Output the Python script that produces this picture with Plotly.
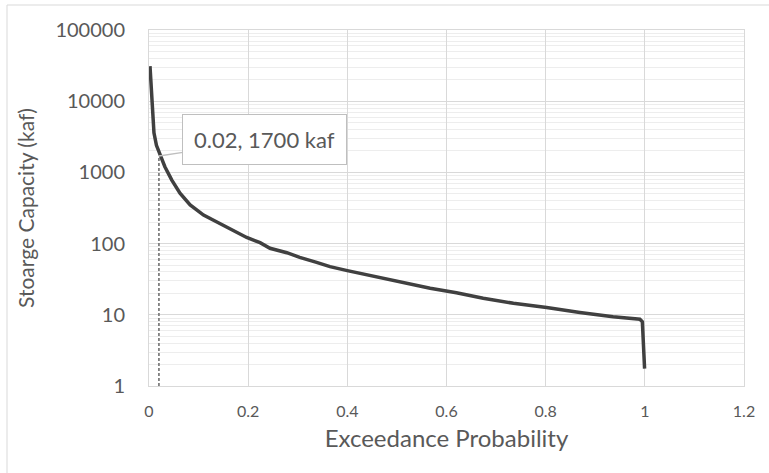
import math
import plotly.graph_objects as go

# Exceedance curve
prob = [0.002, 0.004, 0.006, 0.0075, 0.010, 0.015, 0.021, 0.032, 0.046, 0.0625,
        0.083, 0.110, 0.136, 0.163, 0.197, 0.224, 0.244, 0.278, 0.304, 0.338,
        0.365, 0.400, 0.446, 0.486, 0.530, 0.567, 0.620, 0.674, 0.735, 0.802,
        0.869, 0.936, 0.990, 0.995, 0.9995]
storage = [31000, 18000, 10500, 6000, 3600, 2400, 1850, 1200, 780, 510,
           350, 252, 203, 164, 122, 103, 86, 74.5, 64, 54.6,
           47.4, 41.7, 35.4, 31.5, 26.5, 23.6, 20.4, 17.1, 14.5, 12.7,
           10.8, 9.4, 8.65, 8.0, 1.75]

# Marker line at the selected point
mark_prob = [0.02, 0.02]
mark_storage = [1, 1700]
mark_label = "0.02, 1700 kaf"

x_ticks = [0, 0.2, 0.4, 0.6, 0.8, 1, 1.2]
x_ticktext = ["0", "0.2", "0.4", "0.6", "0.8", "1", "1.2"]

FONT = "Lato"
TXT = "#595959"

fig = go.Figure()
fig.add_trace(go.Scatter(x=mark_prob, y=mark_storage, mode="lines",
                         line=dict(color="#7f7f7f", width=1.8, dash="3px,2px"),
                         hoverinfo="skip", showlegend=False))
fig.add_trace(go.Scatter(x=prob, y=storage, mode="lines",
                         line=dict(color="#404040", width=3.5),
                         showlegend=False))

fig.add_annotation(x=mark_prob[1], y=math.log10(mark_storage[1]), xref="x", yref="y",
                   text=mark_label, showarrow=True, arrowhead=0, arrowwidth=1.5,
                   arrowcolor="#bfbfbf", ax=106, ay=-16, bordercolor="#bfbfbf",
                   borderwidth=1, borderpad=11, bgcolor="white",
                   font=dict(family=FONT, size=22, color=TXT))

# outer chart border
fig.add_shape(type="rect", xref="paper", yref="paper",
              x0=(7 - 149) / 595, x1=1.12, y0=-0.4, y1=1 + 25 / 356,
              line=dict(color="#d9d9d9", width=1), layer="below")

fig.update_layout(
    width=769, height=473,
    margin=dict(l=149, r=25, t=30, b=87),
    paper_bgcolor="white", plot_bgcolor="white",
    font=dict(family=FONT, color=TXT),
    xaxis=dict(range=[0, 1.2], tickvals=x_ticks, ticktext=x_ticktext,
               showgrid=True, gridcolor="#d9d9d9", gridwidth=1,
               showline=True, linecolor="#d9d9d9", mirror=True, zeroline=False,
               ticks="", tickfont=dict(size=16, color=TXT), ticklabelstandoff=11,
               title=dict(text="Exceedance Probability", font=dict(size=24, color=TXT),
                          standoff=10)),
    yaxis=dict(type="log", range=[0, 5], tickmode="linear", tick0=0, dtick=1,
               tickformat="d",
               showgrid=True, gridcolor="#d9d9d9", gridwidth=1,
               showline=True, linecolor="#d9d9d9", mirror=True, zeroline=False,
               minor=dict(showgrid=True, gridcolor="#ededed", dtick="D1", ticks=""),
               ticks="", tickfont=dict(size=20, color=TXT), ticklabelstandoff=19,
               title=dict(text="Stoarge Capacity (kaf)", font=dict(size=21, color=TXT),
                          standoff=15)),
)

fig.write_html("out.html")
